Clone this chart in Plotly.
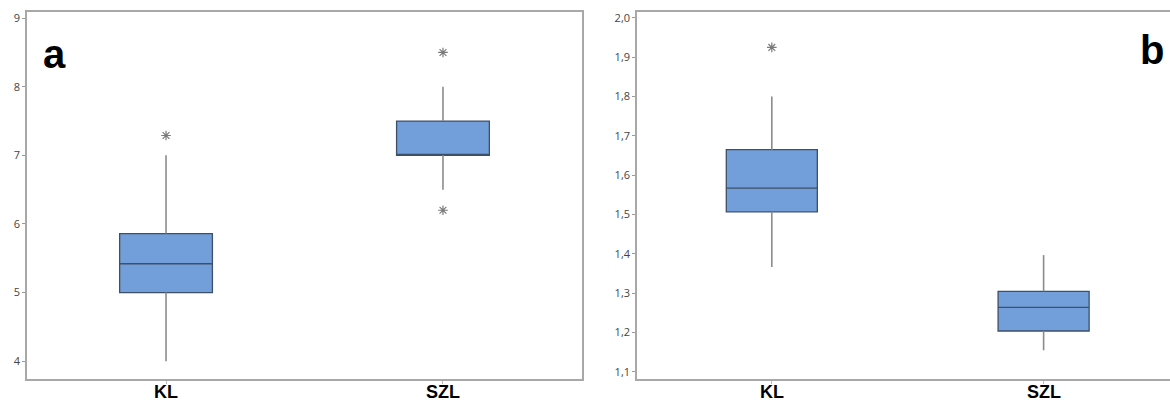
import plotly.graph_objects as go

# ---- data ----
categories = ["KL", "SZL"]
category_labels = ["KL", "SZL"]

# panel a
a_lowerfence = [4.0, 6.5]
a_q1 = [5.0, 7.0]
a_median = [5.42, 7.0]
a_q3 = [5.86, 7.5]
a_upperfence = [7.0, 8.0]
a_outlier_x = ["KL", "SZL", "SZL"]
a_outlier_y = [7.29, 8.5, 6.2]

# panel b
b_lowerfence = [1.367, 1.155]
b_q1 = [1.507, 1.204]
b_median = [1.567, 1.264]
b_q3 = [1.665, 1.305]
b_upperfence = [1.80, 1.397]
b_outlier_x = ["KL"]
b_outlier_y = [1.925]

a_ticks = [4, 5, 6, 7, 8, 9]
b_ticks = [1.1, 1.2, 1.3, 1.4, 1.5, 1.6, 1.7, 1.8, 1.9, 2.0]

# ---- style ----
FILL = "#729fd9"
BORDER = "#3e4f68"
WHISK = "#8c8c8c"
AXIS = "#a8a8a8"
W, H = 1170, 401

fig = go.Figure()

def add_panel(xa, ya, lf, q1, med, q3, uf, ox, oy):
    wx, wy = [], []
    for c, l, a, b, u in zip(categories, lf, q1, q3, uf):
        wx += [c, c, None, c, c, None]
        wy += [l, a, None, b, u, None]
    fig.add_trace(go.Scatter(x=wx, y=wy, mode="lines", xaxis=xa, yaxis=ya,
                             line=dict(color=WHISK, width=1.6),
                             hoverinfo="skip", showlegend=False))
    fig.add_trace(go.Box(x=categories, q1=q1, median=med, q3=q3,
                         lowerfence=q1, upperfence=q3, width=0.335,
                         fillcolor=FILL, line=dict(color=BORDER, width=1.3),
                         xaxis=xa, yaxis=ya, showlegend=False))
    fig.add_trace(go.Scatter(x=ox, y=oy, mode="markers", xaxis=xa, yaxis=ya,
                             marker=dict(symbol="asterisk-open", size=8, color="#7a7a7a",
                                         line=dict(color="#7a7a7a", width=1.2)),
                             showlegend=False))

add_panel("x", "y", a_lowerfence, a_q1, a_median, a_q3, a_upperfence, a_outlier_x, a_outlier_y)
add_panel("x2", "y2", b_lowerfence, b_q1, b_median, b_q3, b_upperfence, b_outlier_x, b_outlier_y)

ytop = 1 - 12 / H
ybot = 1 - 379 / H

yfont = dict(family="Open Sans, Liberation Sans", size=11, color="#444")
lblfont = dict(family="Liberation Sans, Arial", size=18, color="#000")

common_x = dict(type="category", showgrid=False, zeroline=False, showline=True,
                linecolor=AXIS, linewidth=1.5, ticks="outside", ticklen=3,
                tickcolor="#bbb", showticklabels=False, automargin=False)
common_y = dict(showgrid=False, zeroline=False, showline=True, linecolor=AXIS,
                linewidth=1.5, ticks="outside", ticklen=3, tickcolor="#999",
                tickfont=yfont, automargin=False)

annotations = []
for xr in ["x", "x2"]:
    for c, t in zip(categories, category_labels):
        annotations.append(dict(text="<b>%s</b>" % t, x=c, xref=xr, y=1 - 380 / H,
                                yref="paper", yanchor="top", xanchor="center",
                                showarrow=False, font=lblfont))
annotations += [
    dict(text="<b>a</b>", x=54 / W, y=1 - 54 / H, xref="paper", yref="paper",
         showarrow=False, xanchor="center", yanchor="middle",
         font=dict(family="Liberation Sans, Arial", size=40, color="#000")),
    dict(text="<b>b</b>", x=1166 / W, y=1 - 50 / H, xref="paper", yref="paper",
         showarrow=False, xanchor="right", yanchor="middle",
         font=dict(family="Liberation Sans, Arial", size=40, color="#000")),
]

fig.update_layout(
    width=W, height=H, margin=dict(l=0, r=0, t=0, b=0),
    paper_bgcolor="white", plot_bgcolor="white", separators=",.",
    showlegend=False,
    xaxis=dict(common_x, domain=[27 / W, 582 / W], range=[-0.502, 1.502],
               anchor="y", mirror=True),
    yaxis=dict(common_y, domain=[ybot, ytop], range=[3.74, 9.09],
               tickvals=a_ticks, anchor="x", mirror=True),
    xaxis2=dict(common_x, domain=[637 / W, 1.0], range=[-0.496, 1.465],
                anchor="y2", mirror=True),
    yaxis2=dict(common_y, domain=[ybot, ytop], range=[1.082, 2.015],
                tickvals=b_ticks, tickformat=".1f", anchor="x2"),
    annotations=annotations,
)

fig.write_html("out.html", config={"displayModeBar": False},
               post_script="document.body.style.margin='0';document.body.style.overflow='hidden';")
